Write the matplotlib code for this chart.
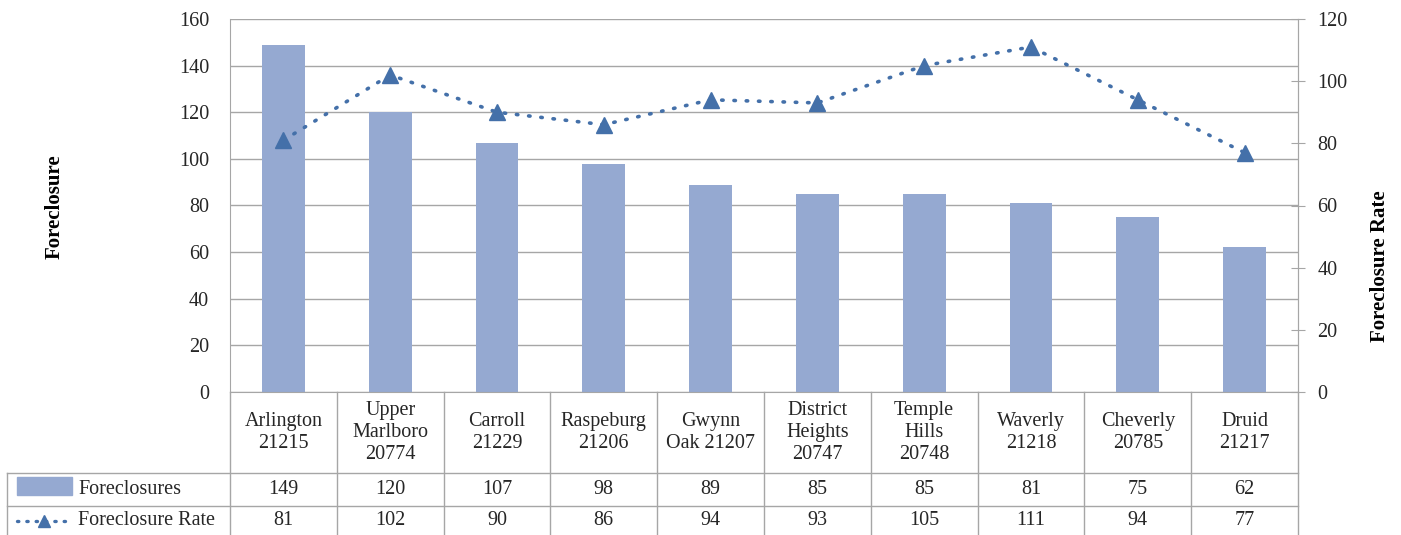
import matplotlib.pyplot as plt
import matplotlib.transforms as mtransforms
from matplotlib.patches import Rectangle
from matplotlib.lines import Line2D

plt.rcParams['font.family'] = ['Liberation Serif', 'DejaVu Serif']

# data
places = ["Arlington\n21215", "Upper\nMarlboro\n20774", "Carroll\n21229",
          "Raspeburg\n21206", "Gwynn\nOak 21207", "District\nHeights\n20747",
          "Temple\nHills\n20748", "Waverly\n21218", "Cheverly\n20785",
          "Druid\n21217"]
foreclosures = [149, 120, 107, 98, 89, 85, 85, 81, 75, 62]
rate = [81, 102, 90, 86, 94, 93, 105, 111, 94, 77]

bar_color = "#95a9d1"
line_color = "#4470a9"
grid_color = "#a6a6a6"
text_color = "#262626"
fs = 14.5
dots = (0, (0.4, 3.0))

W, H = 1401, 535
fig = plt.figure(figsize=(W / 100, H / 100), dpi=100)
# plot area in pixels: left 230, right 1298, top 19, bottom 392
ax = fig.add_axes([230 / W, 1 - 392 / H, 1068 / W, 373 / H])
ax2 = ax.twinx()

x = list(range(len(places)))
ax.bar(x, foreclosures, width=0.4, color=bar_color, zorder=2)
ax.set_xlim(-0.5, len(places) - 0.5)
ax.set_ylim(0, 160)
ax.set_yticks(range(0, 161, 20))
ax.yaxis.grid(True, color=grid_color, lw=1)
ax.set_axisbelow(True)
ax.set_xticks([])
ax.tick_params(axis='y', length=0, pad=15, labelsize=fs, colors=text_color)
ax.spines["top"].set_visible(False)
for s in ["left", "bottom", "right"]:
    ax.spines[s].set_color(grid_color)

ax2.plot(x, rate, color=line_color, lw=2.6, linestyle=dots,
         dash_capstyle='round', marker='^', markersize=11.5, zorder=3)
ax2.set_ylim(0, 120)
ax2.set_yticks(range(0, 121, 20))
ax2.tick_params(axis='y', direction='inout', length=10, pad=9,
                labelsize=fs, labelcolor=text_color, color=grid_color)
for s in ["top", "left", "bottom"]:
    ax2.spines[s].set_visible(False)
ax2.spines["right"].set_color(grid_color)

fig.text(55 / W, 1 - 207 / H, "Foreclosure", rotation=90, ha='center',
         va='center', fontsize=15, fontweight='bold', color='black')
fig.text(1380 / W, 1 - 266 / H, "Foreclosure Rate", rotation=90, ha='center',
         va='center', fontsize=15, fontweight='bold', color='black')

# data table below the plot (x in data units, y in axes units)
trans = mtransforms.blended_transform_factory(ax.transData, ax.transAxes)
px = 1 / 373
y_head = -81 * px
y_r1 = -114 * px
y_r2 = -143 * px
x_left = -0.5 - (230 - 7) / 1068 * len(places)
x_right = len(places) - 0.5

def tline(xs, ys):
    ax.add_line(Line2D(xs, ys, transform=trans, color=grid_color, lw=1,
                       clip_on=False))

for i in range(len(places) + 1):
    tline([i - 0.5, i - 0.5], [0, y_r2])
tline([x_left, x_right], [y_head, y_head])
tline([x_left, x_right], [y_r1, y_r1])
tline([x_left, x_left], [y_head, y_r2])

for i, name in enumerate(places):
    ax.text(i, y_head / 2, name, transform=trans, ha='center', va='center',
            fontsize=fs, color=text_color, linespacing=1.2)
    ax.text(i, (y_head + y_r1) / 2, str(foreclosures[i]), transform=trans,
            ha='center', va='center', fontsize=fs, color=text_color)
    ax.text(i, (y_r1 + y_r2) / 2, str(rate[i]), transform=trans,
            ha='center', va='center', fontsize=fs, color=text_color)

# legend keys in the table
k0 = x_left + (17 - 7) / 1068 * len(places)
k1 = x_left + (72 - 7) / 1068 * len(places)
kt = x_left + (78 - 7) / 1068 * len(places)
ax.add_patch(Rectangle((k0, -103 * px), k1 - k0, 18 * px,
                       transform=trans, color=bar_color, clip_on=False))
ax.text(kt, (y_head + y_r1) / 2, "Foreclosures", transform=trans, ha='left',
        va='center', fontsize=fs, color=text_color)
ym = (y_r1 + y_r2) / 2
ax.add_line(Line2D([k0, k1], [ym, ym], transform=trans, color=line_color,
                   lw=2.4, linestyle=(0, (0.4, 2.4)), dash_capstyle='round',
                   clip_on=False))
ax.add_line(Line2D([(k0 + k1) / 2], [ym], transform=trans, color=line_color,
                   marker='^', markersize=9, clip_on=False))
ax.text(kt, ym, "Foreclosure Rate", transform=trans, ha='left',
        va='center', fontsize=fs, color=text_color)

fig.savefig("out.png", dpi=100)
